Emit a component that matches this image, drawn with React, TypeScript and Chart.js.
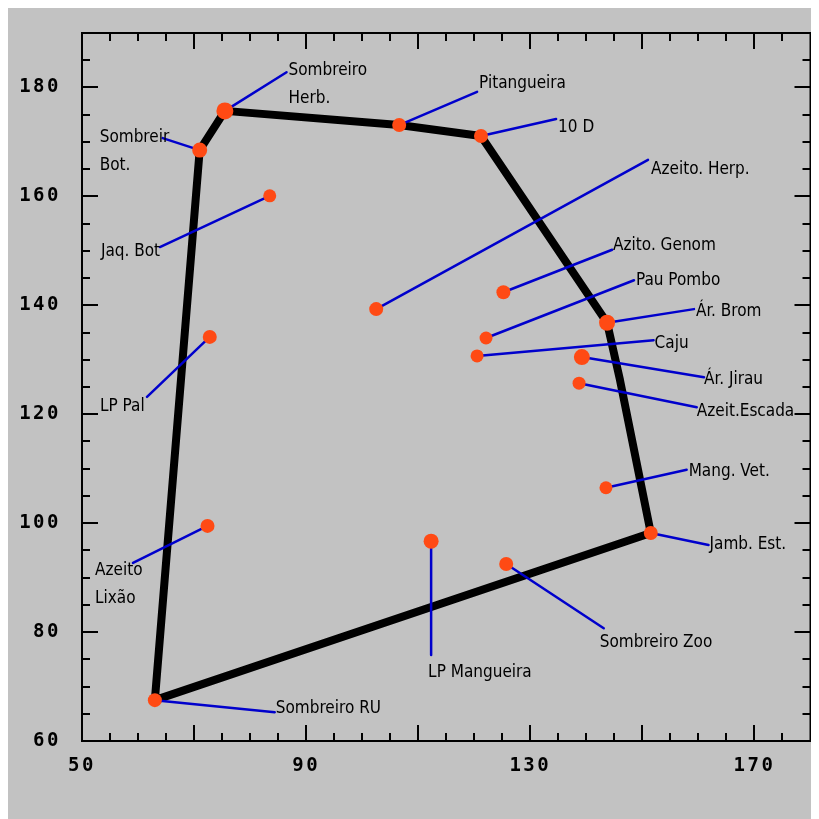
import React, { useEffect, useRef } from "react";
import { Chart, registerables } from "chart.js";

Chart.register(...registerables);

// ---- data ----
const pointNames: string[][] = [
  ["Sombreiro RU"],
  ["Sombreir", "Bot."],
  ["Sombreiro", "Herb."],
  ["Pitangueira"],
  ["10 D"],
  ["Jaq. Bot"],
  ["Azeito. Herp."],
  ["Azito. Genom"],
  ["Pau Pombo"],
  ["Ár. Brom"],
  ["Caju"],
  ["Ár. Jirau"],
  ["Azeit.Escada"],
  ["Mang. Vet."],
  ["Jamb. Est."],
  ["Sombreiro Zoo"],
  ["LP Mangueira"],
  ["Azeito", "Lixão"],
  ["LP Pal"],
];
const xValues = [63.0, 71.0, 75.5, 106.6, 121.2, 83.5, 102.5, 125.2, 122.1, 143.7, 120.5, 139.2, 138.7, 143.5, 151.5, 125.7, 112.3, 72.4, 72.8];
const yValues = [67.5, 168.5, 175.7, 173.1, 171.1, 160.1, 139.3, 142.4, 134.0, 136.8, 130.7, 130.5, 125.7, 106.5, 98.2, 92.5, 96.7, 99.5, 134.2];

const hullX = [63.0, 71.0, 75.5, 106.6, 121.2, 143.7, 146.0, 151.5, 63.0];
const hullY = [67.5, 168.5, 175.7, 173.1, 171.1, 136.8, 126.3, 98.2, 67.5];

const xTickLabels = [50, 90, 130, 170];
const yTickLabels = [60, 80, 100, 120, 140, 160, 180];

// ---- label layout (anchor in data units, text offset in px) ----
const labelLayout: { ax: number; ay: number; dx: number; dy: number }[] = [
  { ax: 84.4, ay: 65.3, dx: 1, dy: -4 },
  { ax: 64.4, ay: 170.7, dx: -63, dy: -1 },
  { ax: 86.5, ay: 182.8, dx: 2, dy: -2 },
  { ax: 120.5, ay: 179.2, dx: 2, dy: -8 },
  { ax: 134.6, ay: 174.2, dx: 2, dy: 9 },
  { ax: 63.9, ay: 150.7, dx: -59, dy: 5 },
  { ax: 151.0, ay: 166.7, dx: 3, dy: 10 },
  { ax: 144.6, ay: 150.2, dx: 1, dy: -4 },
  { ax: 148.5, ay: 144.6, dx: 2, dy: 0 },
  { ax: 159.2, ay: 139.3, dx: 2, dy: 2 },
  { ax: 152.0, ay: 133.6, dx: 1, dy: 3 },
  { ax: 161.0, ay: 126.8, dx: 0, dy: 2 },
  { ax: 159.7, ay: 121.3, dx: 0, dy: 4 },
  { ax: 157.9, ay: 109.8, dx: 2, dy: 2 },
  { ax: 161.8, ay: 96.0, dx: 1, dy: 0 },
  { ax: 143.1, ay: 80.7, dx: -4, dy: 14 },
  { ax: 112.3, ay: 75.8, dx: -3, dy: 18 },
  { ax: 59.1, ay: 92.7, dx: -38, dy: 8 },
  { ax: 61.6, ay: 123.2, dx: -47, dy: 10 },
];
const pointRadii = [7, 7.5, 8.5, 7, 7, 6.5, 7, 7, 6.5, 8, 6.5, 8, 6.5, 6.5, 7, 7, 7.5, 7, 7];

const BG = "#c2c2c2";
const LABEL_FONT = "17px 'DejaVu Sans Condensed', 'Liberation Sans Narrow', 'Roboto Condensed', sans-serif";

const framePlugin = {
  id: "frame",
  beforeDraw(chart: any) {
    const ctx = chart.ctx;
    ctx.save();
    ctx.fillStyle = BG;
    ctx.fillRect(0, 0, chart.width, chart.height);
    ctx.restore();
    (ctx as any).letterSpacing = "2.5px";
  },
  beforeDatasetsDraw(chart: any) {
    (chart.ctx as any).letterSpacing = "0px";
  },
  afterDatasetDraw(chart: any, args: any) {
    if (args.index !== 1) return;
    const ctx = chart.ctx;
    const xs = chart.scales.x;
    const ys = chart.scales.y;
    // leader lines, above the hull and below the sample dots
    ctx.save();
    ctx.strokeStyle = "#0000cc";
    ctx.lineWidth = 2.5;
    ctx.lineCap = "round";
    for (let i = 0; i < xValues.length; i++) {
      const L = labelLayout[i];
      ctx.beginPath();
      ctx.moveTo(xs.getPixelForValue(xValues[i]), ys.getPixelForValue(yValues[i]));
      ctx.lineTo(xs.getPixelForValue(L.ax), ys.getPixelForValue(L.ay));
      ctx.stroke();
    }
    ctx.restore();
  },
  afterDatasetsDraw(chart: any) {
    const ctx = chart.ctx;
    const xs = chart.scales.x;
    const ys = chart.scales.y;
    const { left, right, top, bottom } = chart.chartArea;
    ctx.save();
    // labels
    ctx.fillStyle = "#000";
    ctx.font = LABEL_FONT;
    ctx.textAlign = "left";
    ctx.textBaseline = "middle";
    for (let i = 0; i < xValues.length; i++) {
      const L = labelLayout[i];
      const px = xs.getPixelForValue(L.ax) + L.dx;
      const py = ys.getPixelForValue(L.ay) + L.dy;
      pointNames[i].forEach((t, k) => ctx.fillText(t, px, py + k * 28));
    }
    // frame
    ctx.strokeStyle = "#000";
    ctx.lineWidth = 2;
    ctx.strokeRect(left, top, right - left, bottom - top);
    // ticks
    ctx.lineWidth = 2;
    ctx.beginPath();
    for (let v = 50; v <= 180; v += 5) {
      const p = Math.round(xs.getPixelForValue(v));
      const len = (v - 50) % 20 === 0 ? 16 : 8;
      ctx.moveTo(p, bottom);
      ctx.lineTo(p, bottom - len);
      ctx.moveTo(p, top);
      ctx.lineTo(p, top + len);
    }
    for (let v = 60; v <= 190; v += 5) {
      const p = Math.round(ys.getPixelForValue(v));
      const len = (v - 60) % 20 === 0 ? 16 : 8;
      ctx.moveTo(left, p);
      ctx.lineTo(left + len, p);
      ctx.moveTo(right, p);
      ctx.lineTo(right - len, p);
    }
    ctx.stroke();
    ctx.restore();
  },
};

export default function App() {
  const ref = useRef<HTMLCanvasElement | null>(null);
  useEffect(() => {
    if (!ref.current) return;
    const tickFont = { family: "'DejaVu Sans Mono', monospace", size: 19, weight: "bold" as const };
    const chart = new Chart(ref.current, {
      type: "scatter",
      data: {
        datasets: [
          {
            label: "samples",
            data: xValues.map((x, i) => ({ x, y: yValues[i] })),
            backgroundColor: "#ff4a14",
            borderWidth: 0,
            pointRadius: pointRadii,
            order: 1,
          },
          {
            label: "hull",
            data: hullX.map((x, i) => ({ x, y: hullY[i] })),
            showLine: true,
            borderColor: "#000",
            borderWidth: 8,
            borderJoinStyle: "round",
            pointRadius: 0,
            order: 2,
          } as any,
        ],
      },
      options: {
        responsive: false,
        animation: false,
        layout: { padding: { top: 25, right: 7, left: 0, bottom: 0 } },
        plugins: { legend: { display: false }, tooltip: { enabled: false } },
        scales: {
          x: {
            type: "linear",
            min: 50,
            max: 180,
            grid: { display: false, drawTicks: false },
            border: { display: false },
            ticks: { font: tickFont, color: "#000", padding: 14, maxRotation: 0 },
            afterBuildTicks: (s: any) => {
              s.ticks = xTickLabels.map((v) => ({ value: v }));
            },
            afterFit: (s: any) => {
              s.height = 78;
              s.paddingLeft = 0;
              s.paddingRight = 0;
            },
          },
          y: {
            type: "linear",
            min: 60,
            max: 190,
            grid: { display: false, drawTicks: false },
            border: { display: false },
            ticks: { font: tickFont, color: "#000", padding: 21 },
            afterBuildTicks: (s: any) => {
              s.ticks = yTickLabels.map((v) => ({ value: v }));
            },
            afterFit: (s: any) => {
              s.width = 74;
              s.paddingTop = 0;
              s.paddingBottom = 0;
            },
          },
        },
      },
      plugins: [framePlugin],
    });
    return () => chart.destroy();
  }, []);
  return (
    <div style={{ width: 811, height: 811 }}>
      <canvas ref={ref} width={811} height={811} style={{ display: "block" }} />
    </div>
  );
}
